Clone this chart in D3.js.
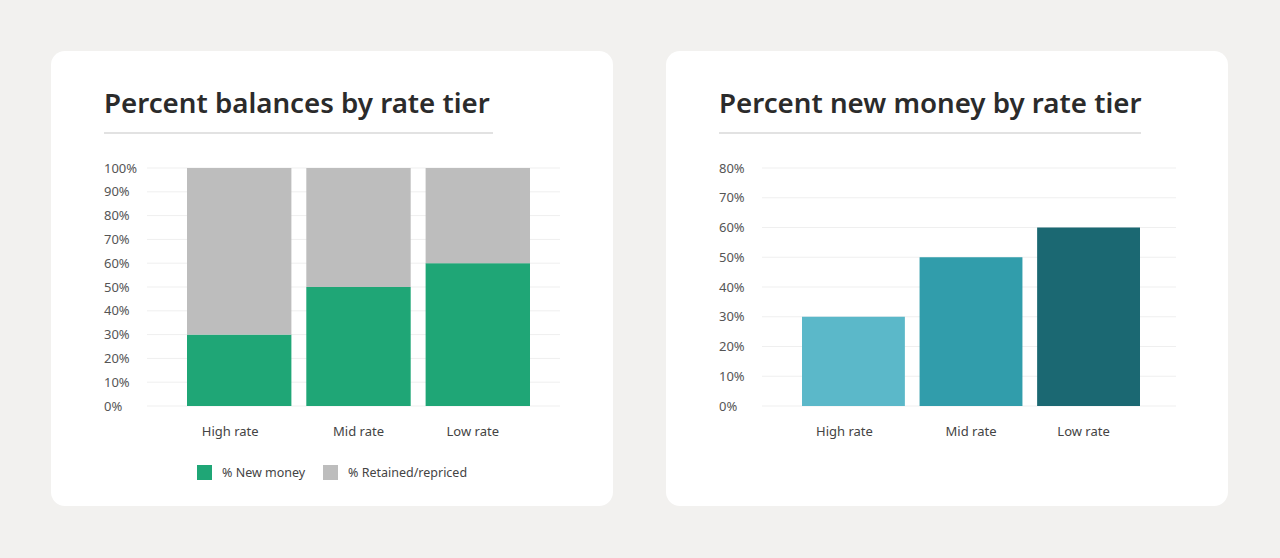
<!DOCTYPE html>
<html><head><meta charset="utf-8">
<script src="https://cdn.jsdelivr.net/npm/d3@7"></script>
<style>
html,body{margin:0;padding:0;background:#f2f1ef;}
svg{display:block;font-family:"Noto Sans",sans-serif;}
</style></head>
<body>
<svg id="c" width="1280" height="558"></svg>
<script>
const categories = ["High rate", "Mid rate", "Low rate"];
const newMoney = [0.30, 0.50, 0.60];
const retained = [0.70, 0.50, 0.40];
const leftTicks = [0, 0.1, 0.2, 0.3, 0.4, 0.5, 0.6, 0.7, 0.8, 0.9, 1.0];
const rightTicks = [0, 0.1, 0.2, 0.3, 0.4, 0.5, 0.6, 0.7, 0.8];
const rightColors = ["#5bb8c9", "#319dab", "#1b6872"];
const leftTitle = "Percent balances by rate tier";
const rightTitle = "Percent new money by rate tier";
const legendLabels = ["% New money", "% Retained/repriced"];
const legendColors = ["#1fa676", "#bdbdbd"];

const svg = d3.select("#c");
const fmt = d3.format(".0%");
const labelShift = [-9, 0, -5];

function card(x0, title, underlineW) {
  svg.append("rect").attr("x", x0).attr("y", 51).attr("width", 562).attr("height", 455)
    .attr("rx", 14).attr("fill", "#ffffff");
  svg.append("text").attr("x", x0 + 53).attr("y", 113).text(title)
    .attr("font-size", 27.7).attr("font-weight", 600).attr("fill", "#2b2b2b");
  svg.append("line").attr("x1", x0 + 53).attr("x2", x0 + 53 + underlineW)
    .attr("y1", 133).attr("y2", 133).attr("stroke", "#d9d9d9").attr("stroke-width", 1.5);
}

function yAxis(y, ticks, labelX, gx0, gx1) {
  const g = svg.append("g");
  g.selectAll("line.grid").data(ticks).join("line")
    .attr("x1", gx0).attr("x2", gx1)
    .attr("y1", d => y(d)).attr("y2", d => y(d))
    .attr("stroke", "#efefef").attr("stroke-width", 1);
  g.selectAll("text").data(ticks).join("text")
    .attr("x", labelX).attr("y", d => y(d)).attr("dy", "0.35em")
    .attr("font-size", 13).attr("fill", "#555").text(d => fmt(d));
}

function xLabels(x) {
  svg.append("g").selectAll("text").data(categories).join("text")
    .attr("x", (d, i) => x(d) + x.bandwidth() / 2 + labelShift[i]).attr("y", 436)
    .attr("text-anchor", "middle").attr("font-size", 13).attr("fill", "#444").text(d => d);
}

// Left chart
card(51, leftTitle, 389);
const yL = d3.scaleLinear().domain([0, 1]).range([406, 168]);
const xL = d3.scaleBand().domain(categories).range([187, 530]).paddingInner(0.125).paddingOuter(0);
yAxis(yL, leftTicks, 104, 147, 560);
const stackData = categories.map((c, i) => ({ cat: c, newMoney: newMoney[i], retained: retained[i] }));
const series = d3.stack().keys(["newMoney", "retained"])(stackData);
svg.append("g").selectAll("g").data(series).join("g")
  .attr("fill", (d, i) => legendColors[i])
  .selectAll("rect").data(d => d).join("rect")
  .attr("x", d => xL(d.data.cat)).attr("width", xL.bandwidth())
  .attr("y", d => yL(d[1])).attr("height", d => yL(d[0]) - yL(d[1]));
xLabels(xL);
const legendX = [197, 323];
const lg = svg.append("g");
legendLabels.forEach((l, i) => {
  lg.append("rect").attr("x", legendX[i]).attr("y", 465).attr("width", 15).attr("height", 15).attr("fill", legendColors[i]);
  lg.append("text").attr("x", legendX[i] + 25).attr("y", 473).attr("dy", "0.35em")
    .attr("font-size", 12.5).attr("fill", "#444").text(l);
});

// Right chart
card(666, rightTitle, 422);
const yR = d3.scaleLinear().domain([0, 0.8]).range([406, 168]);
const xR = d3.scaleBand().domain(categories).range([802, 1140]).paddingInner(0.125).paddingOuter(0);
yAxis(yR, rightTicks, 719, 762, 1176);
svg.append("g").selectAll("rect").data(categories).join("rect")
  .attr("x", d => xR(d)).attr("width", xR.bandwidth())
  .attr("y", (d, i) => yR(newMoney[i])).attr("height", (d, i) => yR(0) - yR(newMoney[i]))
  .attr("fill", (d, i) => rightColors[i]);
xLabels(xR);
</script>
</body></html>
